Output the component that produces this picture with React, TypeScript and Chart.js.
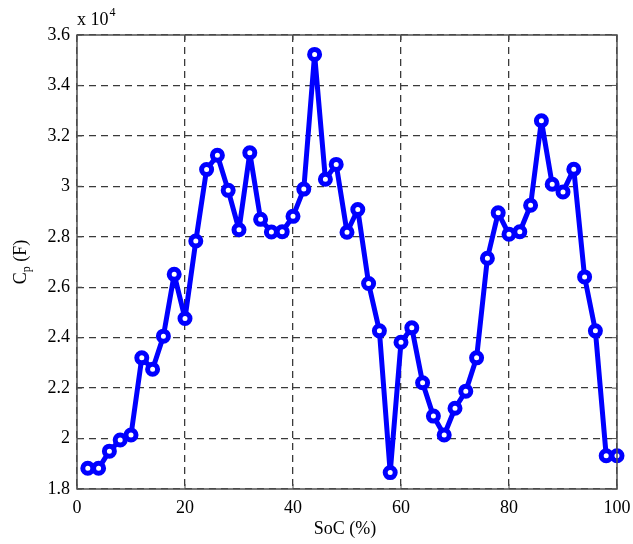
import React, { useEffect, useRef } from "react";
import { Chart, registerables } from "chart.js";

Chart.register(...registerables);

const soc = [2, 4, 6, 8, 10, 12, 14, 16, 18, 20, 22, 24, 26, 28, 30, 32, 34, 36, 38, 40, 42, 44, 46, 48, 50, 52, 54, 56, 58, 60, 62, 64, 66, 68, 70, 72, 74, 76, 78, 80, 82, 84, 86, 88, 90, 92, 94, 96, 98, 100];
const cp = [18820, 18820, 19500, 19940, 20140, 23200, 22750, 24060, 26510, 24760, 27830, 30670, 31230, 29840, 28280, 31330, 28690, 28190, 28200, 28810, 29890, 35230, 30280, 30870, 28180, 29080, 26150, 24270, 18650, 23820, 24390, 22210, 20890, 20140, 21200, 21880, 23200, 27150, 28950, 28100, 28200, 29250, 32600, 30080, 29780, 30680, 26410, 24270, 19320, 19320];
const xTicks = [0, 20, 40, 60, 80, 100];
const yTickLabels = ["1.8", "2", "2.2", "2.4", "2.6", "2.8", "3", "3.2", "3.4", "3.6"];
const xTitle = "SoC (%)";
const yTitleMain = "C";
const yTitleSub = "p";
const yTitleRest = " (F)";
const exponentBase = "x 10";
const exponent = "4";

const FONT = "'Liberation Serif', 'DejaVu Serif', serif";

export default function App() {
  const ref = useRef<HTMLCanvasElement | null>(null);

  useEffect(() => {
    document.body.style.margin = "0";
    const canvas = ref.current;
    if (!canvas) return;

    const decor = {
      id: "decor",
      afterDraw(chart: any) {
        const ctx = chart.ctx;
        const { left, right, top, bottom } = chart.chartArea;
        const xs = chart.scales.x;
        const ys = chart.scales.y;
        ctx.save();
        ctx.strokeStyle = "#505050";
        ctx.lineWidth = 1.5;
        ctx.setLineDash([]);
        ctx.strokeRect(left, top, right - left, bottom - top);
        ctx.lineWidth = 1;
        ctx.beginPath();
        xTicks.forEach((v) => {
          const px = xs.getPixelForValue(v);
          ctx.moveTo(px, bottom);
          ctx.lineTo(px, bottom - 5);
          ctx.moveTo(px, top);
          ctx.lineTo(px, top + 5);
        });
        yTickLabels.forEach((_, i) => {
          const py = ys.getPixelForValue(18000 + i * 2000);
          ctx.moveTo(left, py);
          ctx.lineTo(left + 5, py);
          ctx.moveTo(right, py);
          ctx.lineTo(right - 5, py);
        });
        ctx.stroke();

        ctx.fillStyle = "#000";
        ctx.font = `18px ${FONT}`;
        ctx.textAlign = "left";
        ctx.textBaseline = "alphabetic";
        ctx.fillText(exponentBase, left, 25);
        const w = ctx.measureText(exponentBase).width;
        ctx.font = `12px ${FONT}`;
        ctx.fillText(exponent, left + w + 1, 16);

        ctx.font = `18px ${FONT}`;
        ctx.textAlign = "center";
        ctx.fillText(xTitle, 345, 534);

        ctx.translate(26, 262);
        ctx.rotate(-Math.PI / 2);
        ctx.textAlign = "left";
        ctx.font = `18px ${FONT}`;
        const w1 = ctx.measureText(yTitleMain).width;
        const w3 = ctx.measureText(yTitleRest).width;
        ctx.font = `12px ${FONT}`;
        const w2 = ctx.measureText(yTitleSub).width;
        const total = w1 + w2 + w3;
        let x0 = -total / 2;
        ctx.font = `18px ${FONT}`;
        ctx.fillText(yTitleMain, x0, 0);
        x0 += w1;
        ctx.font = `12px ${FONT}`;
        ctx.fillText(yTitleSub, x0, 4);
        x0 += w2;
        ctx.font = `18px ${FONT}`;
        ctx.fillText(yTitleRest, x0, 0);
        ctx.restore();
      },
    };

    const chart = new Chart(canvas, {
      type: "line",
      data: {
        datasets: [
          {
            data: soc.map((s, i) => ({ x: s, y: cp[i] })),
            borderColor: "#0000ff",
            borderWidth: 5,
            borderJoinStyle: "round",
            borderCapStyle: "round",
            pointRadius: 5,
            pointBorderWidth: 5,
            pointBackgroundColor: "#ffffff",
            pointBorderColor: "#0000ff",
            tension: 0,
            clip: false as any,
          } as any,
        ],
      },
      options: {
        animation: false,
        responsive: false,
        devicePixelRatio: 1,
        layout: { padding: { top: 35, right: 16, left: 0, bottom: 0 } },
        plugins: { legend: { display: false }, tooltip: { enabled: false } },
        scales: {
          x: {
            type: "linear",
            min: 0,
            max: 100,
            afterFit: (s: any) => {
              s.height = 55;
              s.paddingLeft = 0;
              s.paddingRight = 0;
            },
            afterBuildTicks: (s: any) => {
              s.ticks = xTicks.map((v) => ({ value: v }));
            },
            ticks: {
              color: "#000",
              font: { family: FONT, size: 18 },
              padding: 8,
              maxRotation: 0,
              callback: (v: any) => String(v),
            },
            grid: { color: "#3a3a3a", lineWidth: 1.3, drawTicks: false },
            border: { display: false, dash: [7, 5] },
          },
          y: {
            type: "linear",
            min: 18000,
            max: 36000,
            afterFit: (s: any) => {
              s.width = 77;
              s.paddingTop = 0;
              s.paddingBottom = 0;
            },
            afterBuildTicks: (s: any) => {
              s.ticks = yTickLabels.map((_, i) => ({ value: 18000 + i * 2000 }));
            },
            ticks: {
              color: "#000",
              font: { family: FONT, size: 18 },
              padding: 7,
              callback: (_v: any, i: number) => yTickLabels[i],
            },
            grid: { color: "#3a3a3a", lineWidth: 1.3, drawTicks: false },
            border: { display: false, dash: [7, 5] },
          },
        },
      },
      plugins: [decor],
    });

    return () => chart.destroy();
  }, []);

  return (
    <div style={{ width: 633, height: 544 }}>
      <canvas ref={ref} width={633} height={544} style={{ display: "block" }} />
    </div>
  );
}
